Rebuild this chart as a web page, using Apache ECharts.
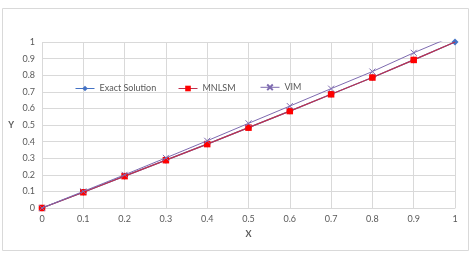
<!DOCTYPE html>
<html>
<head>
<meta charset="utf-8">
<script src="https://cdn.jsdelivr.net/npm/echarts@6/dist/echarts.min.js"></script>
<style>
html, body { margin: 0; padding: 0; background: #fff; }
#main { width: 472px; height: 253px; }
</style>
</head>
<body>
<div id="main"></div>
<script>
// values
var xs = [0, 0.1, 0.2, 0.3, 0.4, 0.5, 0.6, 0.7, 0.8, 0.9, 1];
var exact = [0, 0.095, 0.192, 0.288, 0.385, 0.484, 0.584, 0.685, 0.786, 0.892, 1];
var mnlsm = [0, 0.095, 0.192, 0.288, 0.385, 0.484, 0.584, 0.685, 0.786, 0.892, 1];
var vim = [0, 0.1, 0.2, 0.302, 0.405, 0.51, 0.614, 0.719, 0.822, 0.935, 1.04];

function pairs(ys) {
    return xs.map(function (x, i) { return [x, ys[i]]; });
}

var grey = '#595959';
var font = 'Lato, "Open Sans", sans-serif';
var chart = echarts.init(document.getElementById('main'));

var mnlsmData = pairs(mnlsm);
// no square at x = 1 in the picture, only the diamond
mnlsmData[10] = { value: mnlsmData[10], symbol: 'none' };

function legendAt(name, left, top) {
    return {
        data: [name],
        left: left,
        top: top,
        padding: 0,
        itemWidth: 19,
        itemHeight: 7,
        lineStyle: { width: 1 },
        textStyle: { color: grey, fontSize: 9, fontFamily: font }
    };
}

var option = {
    animation: false,
    graphic: [{
        type: 'rect',
        shape: { x: 2.5, y: 8.5, width: 466, height: 242 },
        style: { fill: 'none', stroke: '#d9d9d9', lineWidth: 1 },
        silent: true
    }],
    legend: [
        legendAt('Exact Solution', 75, 84),
        legendAt('MNLSM', 178, 84),
        legendAt('VIM', 260, 82)
    ],
    grid: { left: 42, right: 17, top: 42, bottom: 45 },
    xAxis: {
        type: 'value',
        min: 0, max: 1, interval: 0.1,
        name: 'X',
        nameLocation: 'middle',
        nameGap: 22,
        nameTextStyle: { color: grey, fontSize: 9, fontFamily: font, fontWeight: 'bold' },
        axisLine: { lineStyle: { color: '#d9d9d9' } },
        axisTick: { show: false },
        axisLabel: { color: grey, fontSize: 9, fontFamily: font, margin: 7 },
        splitLine: { lineStyle: { color: '#d9d9d9' } }
    },
    yAxis: {
        type: 'value',
        min: 0, max: 1, interval: 0.1,
        name: 'Y',
        nameLocation: 'middle',
        nameGap: 28,
        nameRotate: 0,
        nameTextStyle: { color: grey, fontSize: 9, fontFamily: font, fontWeight: 'bold' },
        axisLine: { show: false },
        axisTick: { show: false },
        axisLabel: { color: grey, fontSize: 9, fontFamily: font, margin: 7 },
        splitLine: { lineStyle: { color: '#d9d9d9' } }
    },
    series: [
        {
            name: 'Exact Solution',
            type: 'line',
            z: 2,
            data: pairs(exact),
            symbol: 'diamond',
            symbolSize: 7,
            lineStyle: { color: '#4472C4', width: 1.25 },
            itemStyle: { color: '#4472C4' }
        },
        {
            name: 'MNLSM',
            type: 'line',
            z: 3,
            data: mnlsmData,
            symbol: 'rect',
            symbolSize: 6.5,
            lineStyle: { color: '#C0304D', width: 1.25 },
            itemStyle: { color: '#FF0000' }
        },
        {
            name: 'VIM',
            type: 'line',
            z: 4,
            data: pairs(vim),
            symbol: 'path://M0,0L10,10M10,0L0,10',
            symbolSize: 6,
            lineStyle: { color: '#7E6BB0', width: 1 },
            itemStyle: { color: 'none', borderColor: '#7E6BB0', borderWidth: 1 }
        }
    ]
};
chart.setOption(option);
</script>
</body>
</html>
